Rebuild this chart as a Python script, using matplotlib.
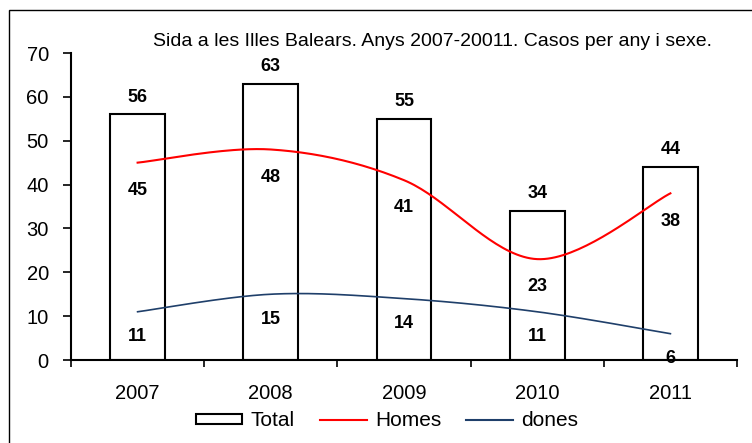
import numpy as np
import matplotlib
matplotlib.use("Agg")
import matplotlib.pyplot as plt
from matplotlib.patches import Rectangle
from matplotlib.lines import Line2D

years = ["2007", "2008", "2009", "2010", "2011"]
total = [56, 63, 55, 34, 44]
homes = [45, 48, 41, 23, 38]
dones = [11, 15, 14, 11, 6]
title = "Sida a les Illes Balears. Anys 2007-20011. Casos per any i sexe."

plt.rcParams['font.family'] = ['Liberation Sans', 'DejaVu Sans']

def smooth(xs, ys, n=40):
    xs = np.asarray(xs, float); ys = np.asarray(ys, float)
    px = np.concatenate([[xs[0]], xs, [xs[-1]]])
    py = np.concatenate([[ys[0]], ys, [ys[-1]]])
    ox, oy = [], []
    for i in range(1, len(px) - 2):
        p0 = np.array([px[i-1], py[i-1]]); p1 = np.array([px[i], py[i]])
        p2 = np.array([px[i+1], py[i+1]]); p3 = np.array([px[i+2], py[i+2]])
        c1 = p1 + (p2 - p0) / 6.0
        c2 = p2 - (p3 - p1) / 6.0
        t = np.linspace(0, 1, n)[:, None]
        b = ((1-t)**3) * p1 + 3*((1-t)**2)*t*c1 + 3*(1-t)*t**2*c2 + t**3*p2
        ox.extend(b[:, 0]); oy.extend(b[:, 1])
    return np.array(ox), np.array(oy)

RED = '#FF0000'
BLUE = '#1F3F6A'

fig = plt.figure(figsize=(7.52, 4.43), dpi=100)
fig.patches.append(Rectangle((9/752, -0.1), 1.2, (443-10)/443 + 0.1, transform=fig.transFigure,
                             fill=False, edgecolor='black', linewidth=1.0))
ax = fig.add_axes([71/752, 83/443, (737-71)/752, (360-53)/443])
x = np.arange(len(years))
ax.bar(x, total, width=0.41, facecolor='white', edgecolor='black', linewidth=1.5, zorder=2)
hx, hy = smooth(x, homes)
ax.plot(hx, hy, color=RED, linewidth=1.5, zorder=3)
dx, dy = smooth(x, dones)
ax.plot(dx, dy, color=BLUE, linewidth=1.2, zorder=3)

for xi, v in zip(x, total):
    ax.annotate(str(v), (xi, v), xytext=(0, 12.5), textcoords='offset points',
                ha='center', va='center', fontsize=13, fontweight='bold')
for xi, v in zip(x, homes):
    ax.annotate(str(v), (xi, v), xytext=(0, -20), textcoords='offset points',
                ha='center', va='center', fontsize=13, fontweight='bold')
for xi, v in zip(x, dones):
    ax.annotate(str(v), (xi, v), xytext=(0, -18), textcoords='offset points',
                ha='center', va='center', fontsize=13, fontweight='bold')

ax.set_xlim(-0.5, len(years) - 0.5)
ax.set_ylim(0, 70)
ax.set_yticks(range(0, 71, 10))
ax.set_xticks(x)
ax.set_xticklabels(years)
ax.set_xticks(np.arange(-0.5, len(years), 1.0), minor=True)
ax.tick_params(axis='x', which='major', length=0, pad=17, labelsize=14.5)
ax.tick_params(axis='x', which='minor', length=5, width=1.2, direction='out')
ax.tick_params(axis='y', length=6, width=1.2, direction='out', pad=10, labelsize=14.5)
for s in ['top', 'right']:
    ax.spines[s].set_visible(False)
for s in ['left', 'bottom']:
    ax.spines[s].set_linewidth(1.5)
ax.set_facecolor('none')

fig.text(432/752, 1 - 42/443, title, ha='center', va='center', fontsize=14)

handles = [Rectangle((0, 0), 1, 1, facecolor='white', edgecolor='black', linewidth=1.5),
           Line2D([], [], color=RED, linewidth=1.5),
           Line2D([], [], color=BLUE, linewidth=1.5)]
fig.legend(handles, ['Total', 'Homes', 'dones'], loc='center', ncol=3,
           bbox_to_anchor=(387/752, 1 - 421/443), frameon=False, fontsize=15,
           handlelength=2.25, handleheight=0.4, columnspacing=1.2, handletextpad=0.4,
           borderpad=0.2)

fig.savefig("out.png", dpi=100)
